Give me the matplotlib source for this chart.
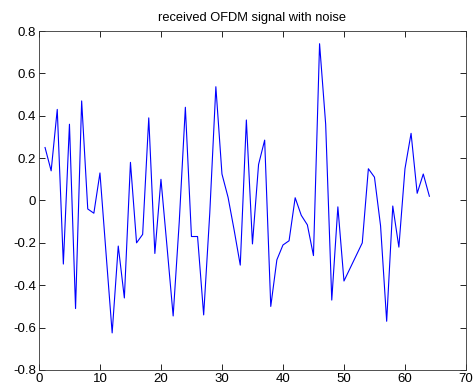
import numpy as np
import matplotlib
matplotlib.use("Agg")
import matplotlib.pyplot as plt
from matplotlib.ticker import FormatStrFormatter

plt.rcParams['font.family'] = ['Liberation Sans', 'DejaVu Sans']
plt.rcParams['axes.unicode_minus'] = False

# sample index and received signal values
n = np.arange(1, 65)
signal = [0.25, 0.14, 0.43, -0.30, 0.36, -0.51, 0.47, -0.04, -0.06, 0.13,
          -0.25, -0.625, -0.215, -0.46, 0.18, -0.20, -0.16, 0.39, -0.25, 0.10,
          -0.22, -0.545, -0.10, 0.44, -0.17, -0.17, -0.54, -0.06, 0.537, 0.125,
          0.015, -0.14, -0.305, 0.38, -0.205, 0.17, 0.285, -0.50, -0.28, -0.21,
          -0.19, 0.013, -0.07, -0.115, -0.26, 0.74, 0.36, -0.47, -0.03, -0.38,
          -0.32, -0.26, -0.20, 0.15, 0.11, -0.12, -0.57, -0.026, -0.22, 0.15,
          0.317, 0.034, 0.125, 0.02]
xticks = [0, 10, 20, 30, 40, 50, 60, 70]
yticks = [-0.8, -0.6, -0.4, -0.2, 0, 0.2, 0.4, 0.6, 0.8]

fig = plt.figure(figsize=(4.75, 3.9), dpi=100)
ax = fig.add_axes([0.082, 0.0513, 0.899, 0.8692])

ax.plot(n, signal, color='#0000ff', lw=0.8)

ax.set_xlim(0, 70)
ax.set_ylim(-0.8, 0.8)
ax.set_xticks(xticks)
ax.set_yticks(yticks)
ax.yaxis.set_major_formatter(FormatStrFormatter('%g'))
ax.tick_params(direction='in', length=4, width=0.6, labelsize=9.5,
               top=True, right=True, pad=2)
for s in ax.spines.values():
    s.set_linewidth(0.6)
    s.set_color('#333333')

ax.set_title('received OFDM signal with noise', fontsize=9.3, pad=7)

fig.savefig('out.png', dpi=100)
